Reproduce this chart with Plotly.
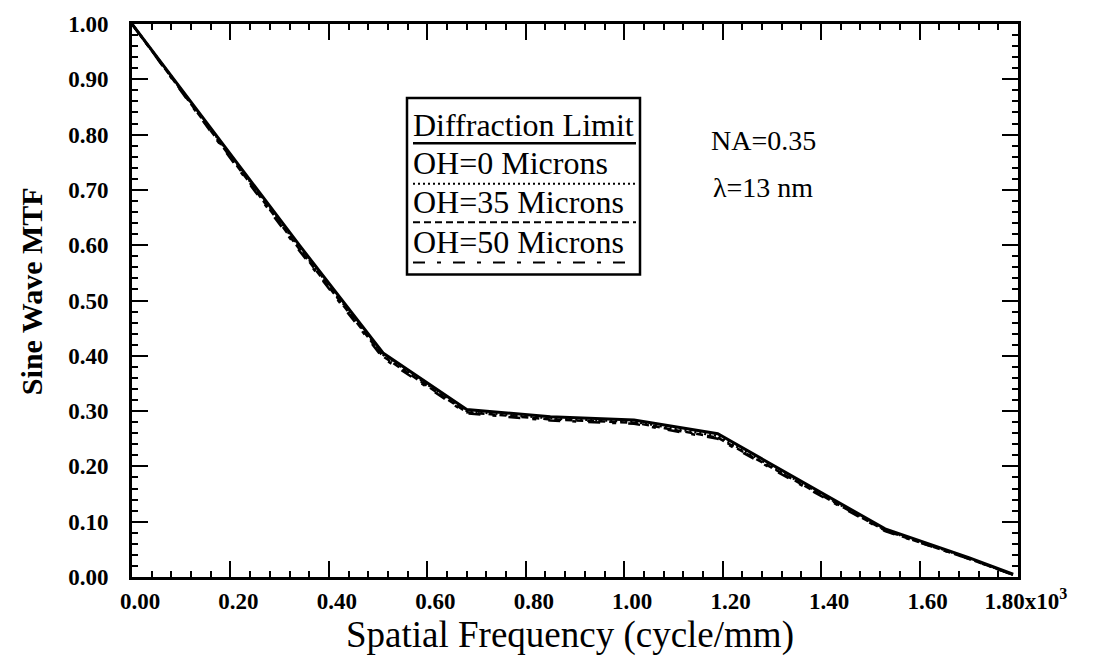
import plotly.graph_objects as go

# ---- data (spatial frequency in 10^3 cycle/mm) ----
freq = [0.00, 0.17, 0.34, 0.51, 0.68, 0.85, 1.02, 1.19, 1.36, 1.53, 1.70, 1.79]
mtf_diffraction = [1.000, 0.800, 0.600, 0.405, 0.303, 0.290, 0.284, 0.259, 0.173, 0.087, 0.035, 0.005]
mtf_oh0 = [1.000, 0.797, 0.596, 0.402, 0.300, 0.287, 0.281, 0.255, 0.170, 0.085, 0.034, 0.004]
mtf_oh35 = [1.000, 0.795, 0.593, 0.399, 0.298, 0.285, 0.279, 0.252, 0.168, 0.084, 0.033, 0.004]
mtf_oh50 = [1.000, 0.793, 0.590, 0.396, 0.296, 0.283, 0.277, 0.250, 0.166, 0.083, 0.033, 0.004]

series_names = ["Diffraction Limit", "OH=0 Microns", "OH=35 Microns", "OH=50 Microns"]
x_tickvals = [0.0, 0.2, 0.4, 0.6, 0.8, 1.0, 1.2, 1.4, 1.6, 1.8]
x_ticktext = ["0.00", "0.20", "0.40", "0.60", "0.80", "1.00", "1.20", "1.40", "1.60",
              "1.80x10<sup>3</sup>"]
y_tickvals = [0.0, 0.1, 0.2, 0.3, 0.4, 0.5, 0.6, 0.7, 0.8, 0.9, 1.0]
y_ticktext = ["0.00", "0.10", "0.20", "0.30", "0.40", "0.50", "0.60", "0.70", "0.80", "0.90", "1.00"]

SERIF = "Liberation Serif, Times New Roman, Times, serif"
dashes = ["solid", "2px,3px", "7px,4px", "12px,12px,4px,12px"]
widths = [3, 2.5, 2.5, 2.5]
series = [mtf_diffraction, mtf_oh0, mtf_oh35, mtf_oh50]

fig = go.Figure()
# draw non-solid first, solid on top
for i in [3, 2, 1, 0]:
    fig.add_trace(go.Scatter(x=freq, y=series[i], mode="lines", name=series_names[i],
                             line=dict(color="black", width=widths[i], dash=dashes[i]),
                             showlegend=False))

L, R, T, B = 132, 77, 16, 90
W, H = 1095, 667
pw, ph = W - L - R, H - T - B

def px_x(px):
    return (px - L) / pw

def px_y(py):
    return (H - B - py) / ph

shapes = []
annotations = []

# legend box
shapes.append(dict(type="rect", xref="paper", yref="paper",
                   x0=px_x(407), x1=px_x(640), y0=px_y(270), y1=px_y(91),
                   line=dict(color="black", width=2.5), fillcolor="white", layer="above"))
text_y = [118, 157, 197, 237]
line_y = [137, 178, 217, 258]
for i, name in enumerate(series_names):
    annotations.append(dict(x=px_x(411), y=px_y(text_y[i]), xref="paper", yref="paper",
                            text=name, showarrow=False, xanchor="left", yanchor="middle",
                            font=dict(family=SERIF, size=32, color="black")))
    shapes.append(dict(type="line", xref="paper", yref="paper",
                       x0=px_x(413), x1=px_x(636), y0=px_y(line_y[i]), y1=px_y(line_y[i]),
                       line=dict(color="black", width=widths[i] - 0.5, dash=dashes[i]),
                       layer="above"))

# parameter labels
annotations.append(dict(x=px_x(763), y=px_y(134), xref="paper", yref="paper",
                        text="NA=0.35", showarrow=False, xanchor="center", yanchor="middle",
                        font=dict(family=SERIF, size=28, color="black")))
annotations.append(dict(x=px_x(763), y=px_y(182), xref="paper", yref="paper",
                        text="λ=13 nm", showarrow=False, xanchor="center", yanchor="middle",
                        font=dict(family=SERIF, size=28, color="black")))

# axis titles
annotations.append(dict(x=0, y=px_y(287), xref="paper", yref="paper", xshift=31 - L,
                        text="<b>Sine Wave MTF</b>", showarrow=False, textangle=-90,
                        xanchor="center", yanchor="middle",
                        font=dict(family=SERIF, size=30, color="black")))
annotations.append(dict(x=px_x(570), y=0, xref="paper", yref="paper", yshift=-58,
                        text="Spatial Frequency (cycle/mm)", showarrow=False,
                        xanchor="center", yanchor="middle",
                        font=dict(family=SERIF, size=37, color="black")))

axis_common = dict(showgrid=False, zeroline=False, showline=True, linecolor="black",
                   linewidth=3, mirror="ticks", ticks="inside", tickcolor="black",
                   tickwidth=2, ticklen=16,
                   tickfont=dict(family=SERIF, size=23, color="black", weight="bold"))

fig.update_layout(
    width=W, height=H,
    margin=dict(l=L, r=R, t=T, b=B),
    paper_bgcolor="white", plot_bgcolor="white",
    xaxis=dict(range=[0, 1.8], tickvals=x_tickvals, ticktext=x_ticktext,
               ticklabelstandoff=1, ticklabelshift=8,
               minor=dict(dtick=0.04, tick0=0, ticks="inside", ticklen=6, tickwidth=2,
                          tickcolor="black"),
               **axis_common),
    yaxis=dict(range=[0, 1.0], tickvals=y_tickvals, ticktext=y_ticktext,
               ticklabelstandoff=16,
               minor=dict(dtick=0.02, tick0=0, ticks="inside", ticklen=6, tickwidth=2,
                          tickcolor="black"),
               **axis_common),
    shapes=shapes,
    annotations=annotations,
)

fig.write_html("out.html")
